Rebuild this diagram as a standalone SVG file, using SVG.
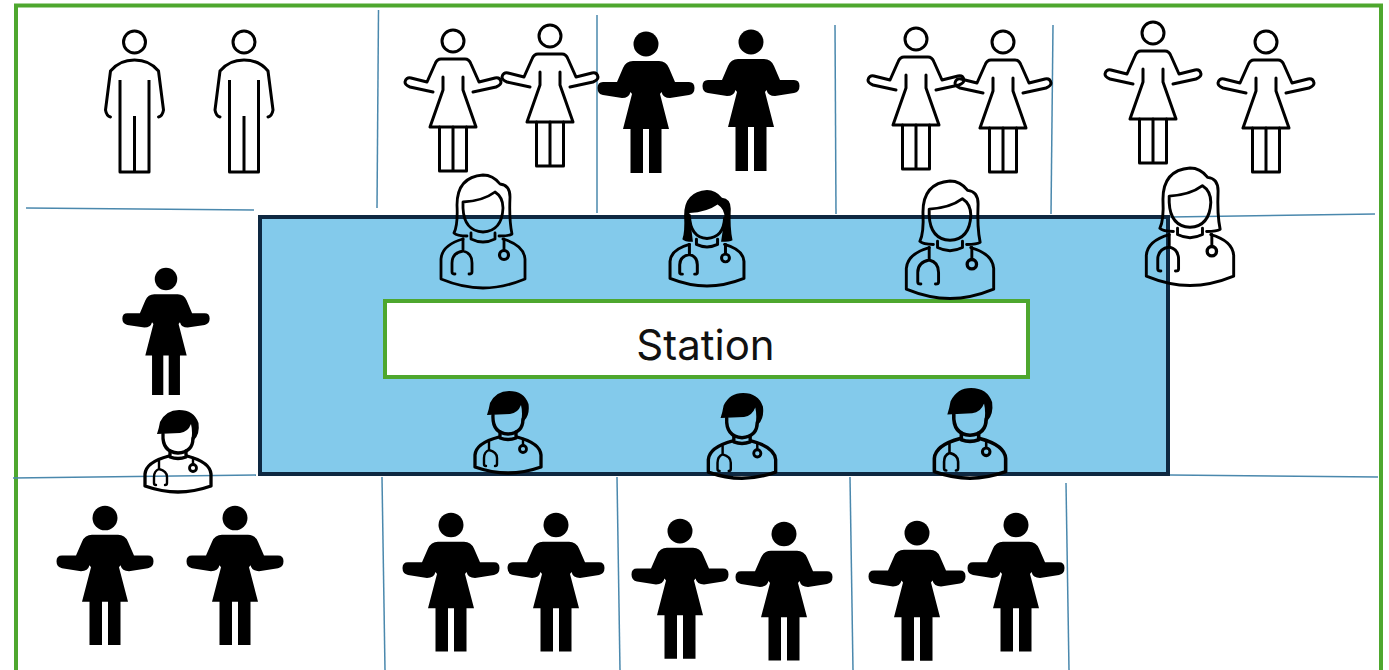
<svg xmlns="http://www.w3.org/2000/svg" width="1389" height="670" viewBox="0 0 1389 670">
<style>
.o{fill:none;stroke:#000;stroke-width:3;stroke-linecap:round;stroke-linejoin:round}
.t{fill:none;stroke:#000;stroke-width:2.800;stroke-linecap:round;stroke-linejoin:round}
.f{fill:#000;stroke:none}
.grid line{stroke:#4a88ad;stroke-width:1.500}
</style>
<defs>
<symbol id="man" overflow="visible" viewBox="0 0 1 1" width="1" height="1">
<g class="o"><circle cx="0" cy="0" r="11"/>
<path d="M-24 75Q-28 74-29 68L-24 29Q-15 18 0 18Q15 18 24 29L29 68Q28 74 24 75"/>
<path d="M-14.500 38V130H14.500V38M0 74V130" stroke-linecap="butt"/></g>
</symbol>
<symbol id="wo" overflow="visible" viewBox="0 0 1 1" width="1" height="1">
<g class="o"><circle cx="0" cy="0" r="11"/>
<path d="M-20 51L-43 46Q-48 44-48 41Q-47 36-42 37L-26 41L-18 23Q-16 18-12 18H12Q16 18 18 23L26 41L42 37Q47 36 48 41Q48 44 43 46L20 51"/>
<path d="M-10 36V49L-23 86H23L10 49V36"/>
<path d="M-13.500 86V130H13.500V86M0 86V130"/></g>
</symbol>
<symbol id="wf" overflow="visible" viewBox="0 0 1 1" width="1" height="1">
<circle class="f" cx="0" cy="0" r="12.500"/>
<path class="f" d="M-13 17H13Q20 17 23 24L29 38H43Q48.500 38 48.500 44Q48.500 50 43 51L24 54Q17 54 15.500 48L14 50L23 85H15.500V129H3V85H-3V129H-15.500V85H-23L-14 50L-15.500 48Q-17 54-24 54L-43 51Q-48.500 50-48.500 44Q-48.500 38-43 38H-29L-23 24Q-20 17-13 17Z"/>
</symbol>
<symbol id="docF" overflow="visible" viewBox="0 0 1 1" width="1" height="1">
<g class="t">
<path d="M-16 61Q-26 61-29 58Q-25 50-26 30Q-26 2 0 0Q10 0 17 9Q27 10 27 22Q26 45 29 59Q26 61 16 61"/>
<path d="M-20 27Q0 26 12 17Q20 22 20 33Q19 56 0 57Q-19 56-20 33Z"/>
<path d="M-12 58V64Q0 70 12 64V58"/>
<path d="M-20 64Q-41 70-42 84V104Q-20 113 0 113Q20 113 42 104V84Q41 70 20 64"/>
<path d="M-20 64V76Q-31 78-31 88V97Q-31 99-28 99M-20 76Q-11 78-11 88V97Q-11 99-14 99"/>
<path d="M21 64V75"/><circle cx="21" cy="80" r="4.500" stroke-width="3.200"/>
</g>
</symbol>
<symbol id="docD" overflow="visible" viewBox="0 0 1 1" width="1" height="1">
<path class="f" d="M-28 58Q-25 50-26 30Q-26 2 0 0Q10 0 17 9Q27 10 27 22Q26 45 29 59Q26 61 16 61L20 33Q20 22 12 17Q0 26-20 27L-16 61Q-26 61-28 58Z"/>
<g class="t" style="stroke-width:3.400">
<path d="M-20 30Q-19 56 0 57Q19 56 20 33"/>
<path d="M-12 58V64Q0 70 12 64V58"/>
<path d="M-20 64Q-41 70-42 84V104Q-20 113 0 113Q20 113 42 104V84Q41 70 20 64"/>
<path d="M-20 64V76Q-31 78-31 88V97Q-31 99-28 99M-20 76Q-11 78-11 88V97Q-11 99-14 99"/>
<path d="M21 64V75"/><circle cx="21" cy="80" r="4.500"/>
</g>
</symbol>
<symbol id="docM" overflow="visible" viewBox="0 0 1 1" width="1" height="1">
<path class="f" d="M-21 24Q-19 18-18 12Q-12 0 1 0Q16 0 20.500 13Q22 24 16 30L13 33Q15 22 13 14Q10 22 2 23Z"/>
<g class="t" style="stroke-width:3.300">
<path d="M-15 24Q-16 42 0 43Q15 42 15 28"/>
<path d="M-8 41V47Q0 50 8 47V41"/>
<path d="M-9 46Q-32 52-33 64V76Q-16 82 0 82Q16 82 33 76V64Q32 52 9 46"/>
<path d="M-19 51V59Q-24 61-24 67V73Q-24 75-22 75M-19 59Q-11 61-11 67V73Q-11 75-13 75" stroke-width="2.400"/>
<path d="M15 48V54" stroke-width="2.400"/><circle cx="15" cy="58" r="3.500" stroke-width="2.800"/>
</g>
</symbol>
</defs>
<rect width="1389" height="670" fill="#fff"/>
<path d="M16 670V5.500H1381V670" fill="none" stroke="#4ea72e" stroke-width="4"/>
<g id="connectors" class="grid">
<line x1="378.500" y1="10" x2="377" y2="208"/>
<line x1="597" y1="15" x2="597" y2="213"/>
<line x1="835" y1="25" x2="836" y2="214"/>
<line x1="1053" y1="25" x2="1051" y2="214"/>
<line x1="26" y1="208" x2="254" y2="210"/>
<line x1="1170" y1="217" x2="1375" y2="214"/>
<line x1="13" y1="478" x2="256" y2="475"/>
<line x1="1170" y1="475" x2="1378" y2="477"/>
<line x1="382" y1="477" x2="385" y2="670"/>
<line x1="617" y1="477" x2="620" y2="670"/>
<line x1="850" y1="477" x2="853" y2="670"/>
<line x1="1066" y1="483" x2="1069" y2="670"/>
</g>
<g id="area"><rect x="260" y="217" width="908" height="257" fill="#83caeb" stroke="#0e2841" stroke-width="4"/></g>
<g id="station"><rect x="385" y="301" width="643" height="76" fill="#fff" stroke="#4ea72e" stroke-width="4"/>
<text x="705.500" y="360" font-family="Inter, sans-serif" font-size="42" text-anchor="middle" fill="#111">Station</text></g>
<g id="man1"><use href="#man" transform="translate(134.500 42)"/></g>
<g id="man2"><use href="#man" transform="translate(244 42)"/></g>
<g id="w1"><use href="#wo" transform="translate(453 41)"/></g>
<g id="w2"><use href="#wo" transform="translate(550 36)"/></g>
<g id="w3"><use href="#wf" transform="translate(646 44)"/></g>
<g id="w4"><use href="#wf" transform="translate(751 42)"/></g>
<g id="w5"><use href="#wo" transform="translate(916 39)"/></g>
<g id="w6"><use href="#wo" transform="translate(1003 42)"/></g>
<g id="w7"><use href="#wo" transform="translate(1153 33)"/></g>
<g id="w8"><use href="#wo" transform="translate(1266 42)"/></g>
<g id="w9"><use href="#wf" transform="translate(166 279) scale(.9)"/></g>
<g id="w10"><use href="#wf" transform="translate(105 518) scale(1 .985)"/></g>
<g id="w11"><use href="#wf" transform="translate(235 518) scale(1 .985)"/></g>
<g id="w12"><use href="#wf" transform="translate(451 525) scale(1 .98)"/></g>
<g id="w13"><use href="#wf" transform="translate(556 525) scale(1 .98)"/></g>
<g id="w14"><use href="#wf" transform="translate(680 531) scale(1 .99)"/></g>
<g id="w15"><use href="#wf" transform="translate(784 534) scale(1 .98)"/></g>
<g id="w16"><use href="#wf" transform="translate(917 533) scale(1 .99)"/></g>
<g id="w17"><use href="#wf" transform="translate(1016 525) scale(1 .98)"/></g>
<g id="d1"><use href="#docF" transform="translate(483 175)"/></g>
<g id="d2"><use href="#docD" transform="translate(707 190) scale(.88 .85)"/></g>
<g id="d3"><use href="#docF" transform="translate(950 181) scale(1.04)"/></g>
<g id="d4"><use href="#docF" transform="translate(1190 168) scale(1.04)"/></g>
<g id="d5"><use href="#docM" transform="translate(508 391)"/></g>
<g id="d6"><use href="#docM" transform="translate(742 393) scale(1.02 1.04)"/></g>
<g id="d7"><use href="#docM" transform="translate(970 388) scale(1.08 1.1)"/></g>
<g id="d8"><use href="#docM" transform="translate(178 410)"/></g>
</svg>
